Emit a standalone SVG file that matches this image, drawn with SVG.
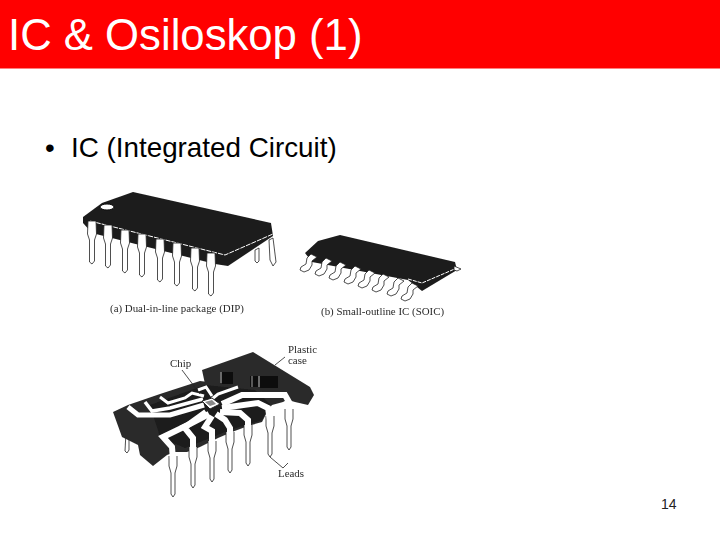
<svg xmlns="http://www.w3.org/2000/svg" width="720" height="540" viewBox="0 0 720 540">
<style>
.s{font-family:"Liberation Sans",Arial,sans-serif}
.c{font-family:"Liberation Serif","Times New Roman",serif;font-size:10.9px;fill:#2a2a2a}
.d{fill:#1c1c1c}
.g{fill:#2b2b2b}
.p{fill:#fff;stroke:#222;stroke-width:.8}
.t{fill:none;stroke:#fff;stroke-linejoin:miter}
.l{fill:none;stroke:#222;stroke-width:.8}
</style>
<defs>
<filter id="b" x="-5%" y="-5%" width="110%" height="110%"><feGaussianBlur stdDeviation="0.4"/></filter>
<path id="dp" d="M-4,0 L4,0 L4.500,13 L2.500,19 L2.500,40 L0,43 L-2.500,41 L-2.500,19 L-4.500,13 Z"/>
<path id="sp" d="M5,-14 L1,-10 L0,-4 L-5,-1 L-6,2 L-2,4 L3,2 L6,-3 L6,-7 L11,-11 Z"/>
<path id="ip" d="M4,-14 L4,-4 L2,3 L2,24 L0,27 L-2,24 L-2,3 L-4,-4 L-4,-14"/>
</defs>

<g id="title">
<rect width="720" height="68.500" fill="#ff0000"/>
<text class="s" x="8" y="50" font-size="43.700" fill="#fff">IC &amp; Osiloskop (1)</text>
</g>
<g id="bullet">
<text class="s" x="45" y="157" font-size="27.800" fill="#000">•</text>
<text class="s" x="71" y="157" font-size="27.800" fill="#000">IC (Integrated Circuit)</text>
</g>

<g id="dip" filter="url(#b)">
<path class="p" d="M269,240 L273,238 L276,262 L273,266 L270,260 Z"/>
<path class="p" d="M255,250 L259,248 L259,261 L257,263 L255,261 Z"/>
<path class="d" d="M83,217 L102,203 L133,192 L271,223 L273,236 L228,266 L215,264 L92,233 L83,223 Z"/>
<path d="M90,221 L225,255 L273,234" fill="none" stroke="#fff" stroke-width="1" stroke-dasharray="5 1"/>
<ellipse cx="107" cy="207" rx="7" ry="3" fill="#fff" stroke="#111"/>
<use class="p" href="#dp" x="92" y="221"/>
<use class="p" href="#dp" x="108" y="225"/>
<use class="p" href="#dp" x="125" y="230"/>
<use class="p" href="#dp" x="142" y="234"/>
<use class="p" href="#dp" x="160" y="239"/>
<use class="p" href="#dp" x="177" y="243"/>
<use class="p" href="#dp" x="195" y="248"/>
<use class="p" href="#dp" x="211" y="253"/>
<text class="c" x="110" y="312">(a) Dual-in-line package (DIP)</text>
</g>

<g id="soic" filter="url(#b)">
<path class="d" d="M305,253 L318,241 L340,235 L455,262 L457,270 L422,291 L417,287 L408,280 L312,262 Z"/>
<path d="M408,279 L422,283 L457,268" fill="none" stroke="#fff" stroke-width="1" stroke-dasharray="4 1"/>
<path class="p" d="M454,266 L461,269 L457,271 L454,270 Z"/>
<use class="p" href="#sp" x="306" y="268"/>
<use class="p" href="#sp" x="321" y="272"/>
<use class="p" href="#sp" x="335" y="276"/>
<use class="p" href="#sp" x="350" y="280"/>
<use class="p" href="#sp" x="364" y="284"/>
<use class="p" href="#sp" x="378" y="288"/>
<use class="p" href="#sp" x="393" y="292"/>
<use class="p" href="#sp" x="407" y="297"/>
<text class="c" x="321" y="315">(b) Small-outline IC (SOIC)</text>
</g>

<g id="cutaway" filter="url(#b)">
<path class="g" d="M202,370 L253,352 L310,387 L314,395 L308,405 L295,402 L262,392 L205,384 Z"/>
<path d="M222,372 h11 v12 h-11 z M250,376 h8 v11 h-8 z M260,376 h18 v12 h-18 z" fill="#0c0c0c"/>
<path d="M221,372 v11 M252,376 v11 M259,376 v11" stroke="#ccc" stroke-width=".8"/>
<path class="p" d="M126,432 L129,432 L129,450 L127,453 L125,451 Z"/>
<path class="g" d="M113,412 L128,405 L160,394 L200,381 L240,386 L290,398 L283,402 L272,405 L268,410 L262,422 L248,426 L232,432 L218,438 L200,447 L187,452 L175,452 L167,455 L153,466 L140,455 L138,445 L122,437 Z"/>
<path class="d" d="M150,405 L205,385 L255,390 L270,404 L262,420 L230,430 L185,448 L160,437 Z"/>
<use class="p" href="#ip" x="173" y="470"/>
<use class="p" href="#ip" x="193" y="461"/>
<use class="p" href="#ip" x="212" y="455"/>
<use class="p" href="#ip" x="230" y="446"/>
<use class="p" href="#ip" x="248" y="439"/>
<use class="p" href="#ip" x="270" y="430"/>
<use class="p" href="#ip" x="289" y="423"/>
<path class="t" stroke-width="5" d="M128,407 L138,415 L170,415 L204,405"/>
<path class="t" stroke-width="3.500" d="M145,402 L152,411 L170,408 L203,399"/>
<path class="t" stroke-width="3" d="M160,397 L168,403 L185,398 L192,393 L204,396"/>
<path class="t" stroke-width="3" d="M198,390 L206,387 L212,396"/>
<path class="t" stroke-width="3" d="M238,387 L218,394 L212,399"/>
<path class="t" stroke-width="6" d="M206,412 L188,425 L163,437 L172,447 L173,460"/>
<path class="t" stroke-width="6" d="M209,414 L184,427 L193,438 L193,450"/>
<path class="t" stroke-width="6" d="M212,416 L205,427 L212,431 L212,445"/>
<path class="t" stroke-width="6" d="M216,414 L225,420 L230,428 L230,436"/>
<path class="t" stroke-width="6" d="M220,412 L240,413 L248,420 L248,429"/>
<path class="t" stroke-width="6" d="M222,408 L258,403 L268,408 L270,420"/>
<path class="t" stroke-width="6" d="M222,404 L242,395 L285,395 L289,402 L289,413"/>
<path d="M202,401 L212,398 L220,404 L210,409 Z" fill="#fff" stroke="#222"/>
<path d="M205,402 L212,400 L216,404 L210,406 Z" fill="#888"/>
<text class="c" x="170" y="367">Chip</text>
<text class="c" x="288" y="353">Plastic</text>
<text class="c" x="288" y="364">case</text>
<text class="c" x="278" y="477">Leads</text>
</g>

<g id="connectors" filter="url(#b)">
<path class="l" d="M182,370 L200,394"/>
<path class="l" d="M285,357 L275,365"/>
<path class="l" d="M270,457 L283,468 L288,463"/>
</g>

<g id="page"><text class="s" x="661" y="509" font-size="14" fill="#222">14</text></g>
</svg>
